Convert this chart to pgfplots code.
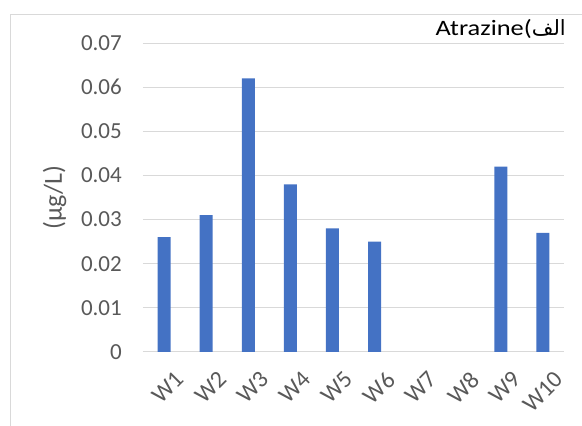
\documentclass[border=0pt]{standalone}
\usepackage{pgfplots}
\pgfplotsset{compat=1.18}
\usepackage{fontspec}
\setmainfont{Carlito}
\newfontfamily\titlefont{Carlito}[FakeStretch=1.2]
\newfontfamily\arabicfont[Script=Arabic]{DejaVu Sans}
\TeXXeTstate=1
\definecolor{barblue}{HTML}{4472C4}
\definecolor{gridgray}{HTML}{D9D9D9}
\definecolor{txtgray}{HTML}{595959}
\begin{document}
\begin{tikzpicture}
\path[use as bounding box] (0pt,0pt) rectangle (582pt,426pt);
\begin{scope}
\clip (0pt,0pt) rectangle (582pt,426pt);
\draw[gridgray, line width=1pt] (10pt,-20pt) rectangle (620pt,411pt);
\end{scope}
\begin{axis}[
  at={(143pt,74pt)}, anchor=south west,
  scale only axis, width=421pt, height=309pt,
  xmin=-0.5, xmax=9.5, ymin=0, ymax=0.07,
  ybar, bar width=13pt,
  axis line style={draw=none},
  major tick length=0pt,
  scaled y ticks=false,
  ymajorgrids, grid style={gridgray, line width=1pt},
  ytick={0,0.01,0.02,0.03,0.04,0.05,0.06,0.07},
  yticklabels={0,0.01,0.02,0.03,0.04,0.05,0.06,0.07},
  xtick={0,1,2,3,4,5,6,7,8,9},
  xticklabels={W1,W2,W3,W4,W5,W6,W7,W8,W9,W10},
  every tick label/.append style={font=\fontsize{23}{27}\selectfont, text=txtgray},
  yticklabel style={anchor=east, inner sep=0pt, xshift=-21pt},
  xticklabel style={rotate=45, anchor=north east, inner sep=0pt, xshift=-5pt, yshift=-20pt, font=\fontsize{24}{28}\selectfont},
  ylabel={(µg/L)},
  ylabel style={at={(axis description cs:-0.21,0.5)}, anchor=center, rotate=0, font=\fontsize{26}{30}\selectfont, text=txtgray},
  clip=false,
]
\addplot[fill=barblue, draw=none, unbounded coords=discard,
  y filter/.expression={y==0 ? nan : y}] coordinates {
  (0,0.026) (1,0.031) (2,0.062) (3,0.038) (4,0.028)
  (5,0.025) (6,0) (7,0) (8,0.042) (9,0.027)
};
\end{axis}
\node[anchor=base east, inner sep=0pt] at (566pt,390pt) {\titlefont\fontsize{22}{26}\selectfont Atrazine(\arabicfont\fontsize{21}{26}\selectfont\beginR الف\endR};
\end{tikzpicture}
\end{document}
